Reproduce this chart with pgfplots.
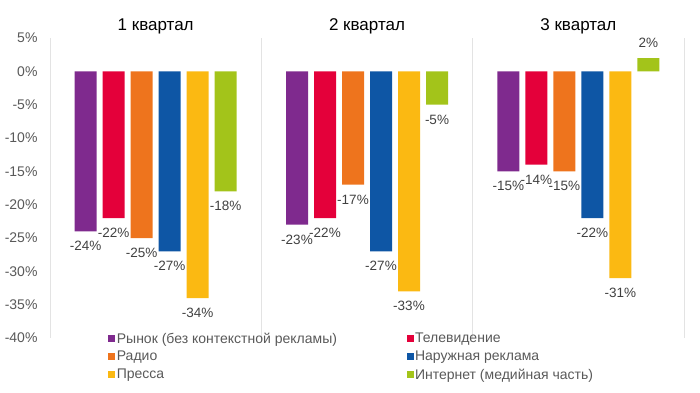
\documentclass[border=0pt]{standalone}
\usepackage{pgfplots}
\pgfplotsset{compat=1.18}
\usepackage{fontspec}
\setmainfont{Liberation Sans}
\definecolor{cPurple}{HTML}{7F2A8E}
\definecolor{cRed}{HTML}{E4003A}
\definecolor{cOrange}{HTML}{EE741D}
\definecolor{cBlue}{HTML}{0E56A5}
\definecolor{cYellow}{HTML}{FBB912}
\definecolor{cGreen}{HTML}{A3C41A}
\definecolor{labgray}{HTML}{404040}
\definecolor{tickgray}{HTML}{595959}
\definecolor{gridgray}{HTML}{E3E3E3}
\pgfplotsset{
  mybar/.style={fill=#1, draw=none,
    legend image code/.code={\fill[#1] (0pt,-3.5pt) rectangle (7pt,3.5pt);}},
}
\begin{document}
\begin{tikzpicture}[x=1pt,y=1pt]
\path (0,0) rectangle (700,392);
\begin{axis}[
  at={(50pt,54pt)}, anchor=south west,
  scale only axis, width=634pt, height=300pt,
  xmin=-0.5, xmax=2.5, ymin=-40, ymax=5,
  ybar=6pt, bar width=22pt,
  axis line style={draw=none},
  major tick length=0pt,
  ytick={-40,-35,...,5},
  yticklabel={\pgfmathprintnumber[assume math mode=true]{\tick}\%},
  yticklabel style={font=\fontsize{14}{16}\selectfont, text=tickgray, xshift=-9pt},
  xtick={0,1,2},
  xticklabels={1 квартал,2 квартал,3 квартал},
  xticklabel pos=upper,
  xticklabel style={font=\fontsize{17}{19}\selectfont, text=black, yshift=0pt},
  extra x ticks={-0.5,0.5,1.5,2.5},
  extra x tick labels={},
  extra x tick style={grid=major, major grid style={color=gridgray, line width=0.8pt}},
  nodes near coords={\pgfmathprintnumber[assume math mode=true]{\pgfplotspointmeta}\%},
  every node near coord/.append style={font=\fontsize{13.5}{15}\selectfont, text=labgray, inner ysep=10pt},
  legend columns=2,
  legend style={draw=none, fill=none, at={(0.087,0.03)}, anchor=north west,
    font=\fontsize{14}{16}\selectfont, text=tickgray,
    row sep=3.5pt,
    nodes={inner sep=1.5pt},
    /tikz/every even column/.append style={column sep=68pt}},
  legend cell align=left,
]
\addplot[mybar=cPurple] coordinates {(0,-24) (1,-23) (2,-15)};
\addlegendentry{Рынок (без контекстной рекламы)}
\addplot[mybar=cRed] coordinates {(0,-22) (1,-22) (2,-14)};
\addlegendentry{Телевидение}
\addplot[mybar=cOrange] coordinates {(0,-25) (1,-17) (2,-15)};
\addlegendentry{Радио}
\addplot[mybar=cBlue] coordinates {(0,-27) (1,-27) (2,-22)};
\addlegendentry{Наружная реклама}
\addplot[mybar=cYellow] coordinates {(0,-34) (1,-33) (2,-31)};
\addlegendentry{Пресса}
\addplot[mybar=cGreen] coordinates {(0,-18) (1,-5) (2,2)};
\addlegendentry{Интернет (медийная часть)}
\end{axis}
\end{tikzpicture}
\end{document}
